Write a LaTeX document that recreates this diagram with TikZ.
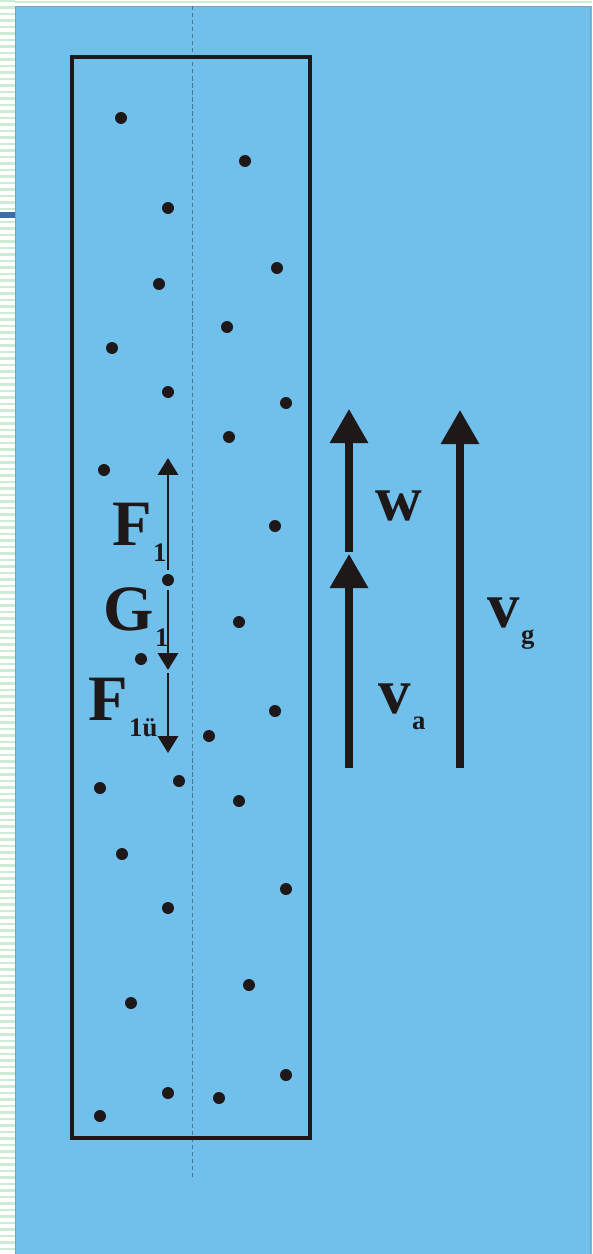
\documentclass[tikz,border=0pt]{standalone}
\usepackage{fontspec}
\setmainfont{Liberation Serif}
\usetikzlibrary{arrows.meta}
\definecolor{panelblue}{RGB}{113,192,236}
\definecolor{stripgreen}{RGB}{205,236,214}
\definecolor{barblue}{RGB}{58,110,165}
\definecolor{inkdark}{RGB}{30,24,24}
\definecolor{axisgray}{RGB}{70,120,150}
\newcommand{\lowsub}[1]{\raisebox{-12pt}{\fontsize{19}{19}\selectfont #1}}

\begin{document}
\begin{tikzpicture}[
  x=0.025cm,y=-0.025cm,
  sym/.style={font=\fontsize{46}{46}\selectfont\bfseries,text=inkdark,
              inner sep=0pt,anchor=base west},
  force/.style={-{Triangle[width=0.5cm,length=0.42cm]},line width=1.9pt,inkdark},
  speed/.style={-{Triangle[width=0.92cm,length=0.85cm]},line width=5pt,inkdark},
]
  \useasboundingbox (0,0) rectangle (592,1254);

  % Slide background
  \fill[white] (0,0) rectangle (592,1254);
  \foreach \y in {1,7.5,...,1254}
    \draw[stripgreen,line width=1.5pt] (0,\y) -- (15,\y);
  \draw[stripgreen,line width=1.5pt] (15,2) -- (592,2);
  \fill[barblue] (0,212) rectangle (15,218);
  \fill[panelblue] (15,6) rectangle (592,1254);
  \draw[axisgray!70,line width=0.6pt] (15,1254) -- (15,6) -- (590,6) -- (590,1254);

  % Column of particles
  \draw[axisgray,densely dashed,line width=0.5pt] (192,6) -- (192,1180);
  \draw[inkdark,line width=2.2pt] (72,57) rectangle (310,1138);
  \foreach \px/\py in {121/118,245/161,168/208,277/268,159/284,227/327,112/348,
      168/392,286/403,229/437,104/470,275/526,168/580,239/622,141/659,275/711,
      209/736,100/788,179/781,239/801,122/854,286/889,168/908,249/985,131/1003,
      286/1075,168/1093,219/1098,100/1116}
    \fill[inkdark] (\px,\py) circle (6);

  % Forces on the particle
  \coordinate (f1s) at (168,570);
  \coordinate (f1e) at (168,458);
  \coordinate (g1s) at (168,590);
  \coordinate (g1e) at (168,670);
  \coordinate (fus) at (168,673);
  \coordinate (fue) at (168,753);
  \draw[force] (f1s) -- (f1e);
  \draw[force] (g1s) -- (g1e);
  \draw[force] (fus) -- (fue);

  \node[sym] (lf1) at (112,545) {F\kern1pt\lowsub{1}};
  \node[sym] (lg1) at (103,630) {G\kern1pt\lowsub{1}};
  \node[sym] (lfu) at (88,720) {F\kern1pt\lowsub{1ü}};

  % Velocities
  \coordinate (ws) at (349,552);
  \coordinate (we) at (349,409);
  \coordinate (vas) at (349,768);
  \coordinate (vae) at (349,554);
  \coordinate (vgs) at (460,768);
  \coordinate (vge) at (460,410);
  \draw[speed] (ws) -- (we);
  \draw[speed] (vas) -- (vae);
  \draw[speed] (vgs) -- (vge);

  \node[sym] (lw) at (375,520) {w};
  \node[sym] (lva) at (378,713) {v\kern1pt\lowsub{a}};
  \node[sym] (lvg) at (487,627) {v\kern1pt\lowsub{g}};
\end{tikzpicture}
\end{document}
